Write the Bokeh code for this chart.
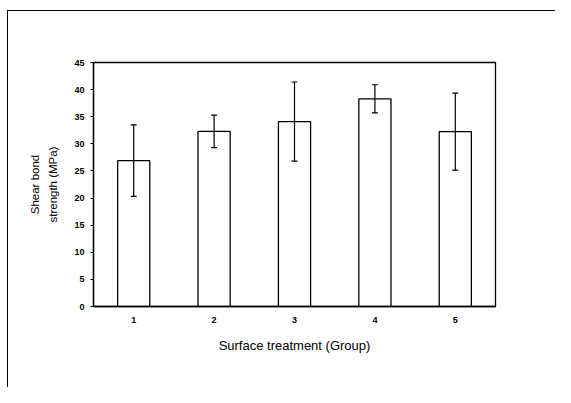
from bokeh.plotting import figure
from bokeh.models import ColumnDataSource, Whisker, TeeHead, FixedTicker, Range1d, FactorRange
from bokeh.embed import file_html
from bokeh.resources import INLINE

groups = ["1", "2", "3", "4", "5"]
means = [26.9, 32.3, 34.1, 38.3, 32.25]
sds = [6.6, 3.0, 7.3, 2.6, 7.1]
y_ticks = [0, 5, 10, 15, 20, 25, 30, 35, 40, 45]

lower = [m - s for m, s in zip(means, sds)]
upper = [m + s for m, s in zip(means, sds)]
src = ColumnDataSource(dict(g=groups, m=means, lo=lower, hi=upper))

p = figure(width=548, height=377, output_backend="svg", toolbar_location=None,
           x_range=FactorRange(*groups, range_padding=0), y_range=Range1d(0, 45),
           min_border_left=85, min_border_right=61, min_border_top=51, min_border_bottom=82)
p.styles = {"border-left": "1.5px solid black", "border-top": "1.5px solid black",
            "margin-left": "7px", "margin-top": "10px"}

p.vbar(x="g", top="m", width=0.4, source=src, fill_color="white", line_color="black", line_width=1.3)
w = Whisker(base="g", lower="lo", upper="hi", source=src, line_color="black", line_width=1.2,
            upper_head=TeeHead(size=6, line_color="black", line_width=1.2),
            lower_head=TeeHead(size=6, line_color="black", line_width=1.2))
w.level = "overlay"
p.add_layout(w)

p.grid.visible = False
p.outline_line_color = "black"
p.outline_line_width = 1.3
p.background_fill_color = "white"
p.border_fill_color = "white"

p.yaxis.ticker = FixedTicker(ticks=y_ticks)
p.yaxis.minor_tick_line_color = None
p.yaxis.major_tick_out = 3
p.yaxis.major_tick_in = 0
p.yaxis.axis_line_width = 1.3
p.xaxis.axis_line_width = 1.3
p.xaxis.major_tick_line_color = None
p.xaxis.major_tick_out = 0
p.xaxis.major_tick_in = 0
p.xaxis.major_label_standoff = 10
p.yaxis.major_label_standoff = 6

for ax in (p.xaxis, p.yaxis):
    ax.major_label_text_font = "Liberation Sans"
    ax.major_label_text_font_style = "bold"
    ax.major_label_text_font_size = "9px"
    ax.major_label_text_color = "black"
    ax.axis_label_text_font = "Liberation Sans"
    ax.axis_label_text_font_style = "normal"
    ax.axis_label_text_color = "black"
    ax.axis_line_color = "black"

p.xaxis.axis_label = "Surface treatment (Group)"
p.xaxis.axis_label_text_font_size = "13px"
p.xaxis.axis_label_standoff = 12
p.yaxis.axis_label = "Shear bond\nstrength (MPa)"
p.yaxis.axis_label_text_font_size = "11.5px"
p.yaxis.axis_label_text_line_height = 1.5
p.yaxis.axis_label_standoff = 12

open("out.html", "w").write(file_html(p, INLINE))
